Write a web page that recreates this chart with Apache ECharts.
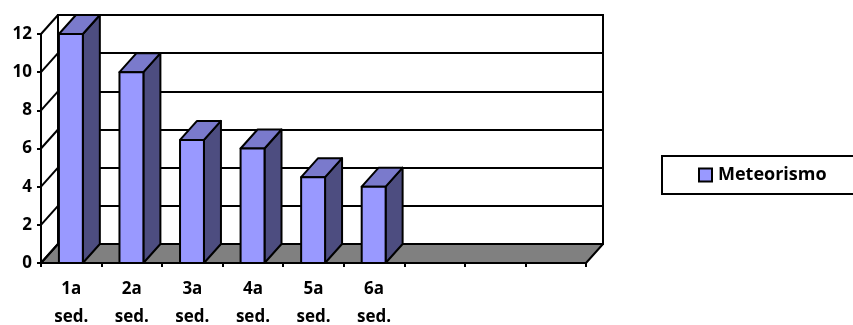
<!DOCTYPE html>
<html>
<head>
<meta charset="utf-8">
<style>html,body{margin:0;padding:0;background:#fff}#chart{width:853px;height:325px}</style>
<script src="https://cdn.jsdelivr.net/npm/echarts@6/dist/echarts.min.js"></script>
</head>
<body>
<div id="chart"></div>
<script>
// Session labels; the last three slots on the axis are unused.
const categories = ['1a\nsed.', '2a\nsed.', '3a\nsed.', '4a\nsed.', '5a\nsed.', '6a\nsed.', '', '', ''];
const meteorismo = [12, 10, 6.45, 6, 4.5, 4, null, null, null];
const valueTicks = [0, 2, 4, 6, 8, 10, 12];

// Pseudo-3D depth of the plot box, in pixels.
const DEPTH_X = 17;
const DEPTH_Y = 19;
const INK = '#000';
const FONT = '"Open Sans", Lato, sans-serif';
const labelStyle = { color: INK, fontFamily: FONT, fontWeight: 'bold', fontSize: 17 };

function renderFloor(params, api) {
  const band = api.size([1, 0])[0];
  const c = api.coord([0, 0]);
  const x0 = c[0] - band / 2;
  const x1 = x0 + band * categories.length;
  const y = c[1];
  return {
    type: 'polygon',
    shape: { points: [[x0, y], [x1, y], [x1 + DEPTH_X, y - DEPTH_Y], [x0 + DEPTH_X, y - DEPTH_Y]] },
    style: { fill: '#808080', stroke: INK, lineWidth: 2, lineJoin: 'round' }
  };
}

// Slanted ticks joining the front value axis to the back wall.
function renderWallTick(params, api) {
  const band = api.size([1, 0])[0];
  const p = api.coord([0, api.value(1)]);
  const x = p[0] - band / 2;
  return {
    type: 'line',
    shape: { x1: x, y1: p[1], x2: x + DEPTH_X, y2: p[1] - DEPTH_Y },
    style: { stroke: INK, lineWidth: 2 }
  };
}

function renderBar(params, api) {
  const v = api.value(1);
  if (v == null || isNaN(v)) return null;
  const top = api.coord([api.value(0), v]);
  const base = api.coord([api.value(0), 0]);
  const w = api.size([1, 0])[0] * 0.395;
  const cx = top[0] - 0.4;
  const l = cx - w / 2, r = cx + w / 2, t = top[1], b = base[1];
  const edge = { stroke: INK, lineWidth: 2, lineJoin: 'round' };
  return {
    type: 'group',
    children: [
      { type: 'polygon', shape: { points: [[r, t], [r + DEPTH_X, t - DEPTH_Y], [r + DEPTH_X, b - DEPTH_Y], [r, b]] },
        style: Object.assign({ fill: '#4D4D80' }, edge) },
      { type: 'polygon', shape: { points: [[l, t], [l + DEPTH_X, t - DEPTH_Y], [r + DEPTH_X, t - DEPTH_Y], [r, t]] },
        style: Object.assign({ fill: '#7A7ACC' }, edge) },
      { type: 'rect', shape: { x: l, y: t, width: w, height: b - t },
        style: Object.assign({ fill: '#9999FF' }, edge) }
    ]
  };
}

const chart = echarts.init(document.getElementById('chart'), null, { renderer: 'canvas' });
chart.setOption({
  animation: false,
  backgroundColor: '#fff',
  grid: [
    { left: 41, right: 267, top: 34, bottom: 62, outerBoundsMode: 'none' },
    { left: 58, right: 250, top: 15, bottom: 81, outerBoundsMode: 'none', show: true, borderColor: INK, borderWidth: 2, backgroundColor: '#fff' }
  ],
  xAxis: [
    { type: 'category', gridIndex: 0, data: categories,
      axisLine: { show: true, lineStyle: { color: INK, width: 2 } },
      axisTick: { show: true, alignWithLabel: false, interval: 0, length: 4, lineStyle: { color: INK, width: 2 } },
      axisLabel: Object.assign({ interval: 0, margin: 12, lineHeight: 28 }, labelStyle),
      splitLine: { show: false } },
    { type: 'category', gridIndex: 1, data: categories, show: false }
  ],
  yAxis: [
    { type: 'value', gridIndex: 0, min: 0, max: 12, interval: 2,
      axisLine: { show: true, lineStyle: { color: INK, width: 2 } },
      axisTick: { show: true, length: 4, lineStyle: { color: INK, width: 2 } },
      axisLabel: Object.assign({ margin: 9, padding: [2, 0, 0, 0] }, labelStyle),
      splitLine: { show: false } },
    { type: 'value', gridIndex: 1, min: 0, max: 12, interval: 2,
      axisLine: { show: false }, axisTick: { show: false }, axisLabel: { show: false },
      splitLine: { show: true, lineStyle: { color: INK, width: 2 } } }
  ],
  legend: {
    data: ['Meteorismo'],
    left: 662, top: 156,
    padding: [10, 44, 10, 36],
    backgroundColor: '#fff',
    borderColor: INK, borderWidth: 2,
    itemWidth: 13, itemHeight: 13, itemGap: 0,
    icon: 'rect',
    selectedMode: false,
    textStyle: Object.assign({}, labelStyle, { fontSize: 18, padding: [0, 0, 0, 1] }),
    itemStyle: { borderColor: INK, borderWidth: 2 }
  },
  series: [
    { type: 'custom', name: 'floor', coordinateSystem: 'cartesian2d', xAxisIndex: 0, yAxisIndex: 0,
      clip: false, silent: true, z: 1, data: [[0, 0]], renderItem: renderFloor },
    { type: 'custom', name: 'wall', coordinateSystem: 'cartesian2d', xAxisIndex: 0, yAxisIndex: 0,
      clip: false, silent: true, z: 1, data: valueTicks.map(v => [0, v]), renderItem: renderWallTick },
    { type: 'custom', name: 'Meteorismo', coordinateSystem: 'cartesian2d', xAxisIndex: 0, yAxisIndex: 0,
      clip: false, z: 3, itemStyle: { color: '#9999FF' },
      encode: { x: 0, y: 1 },
      data: meteorismo.map((v, i) => [i, v]), renderItem: renderBar }
  ]
});
</script>
</body>
</html>
